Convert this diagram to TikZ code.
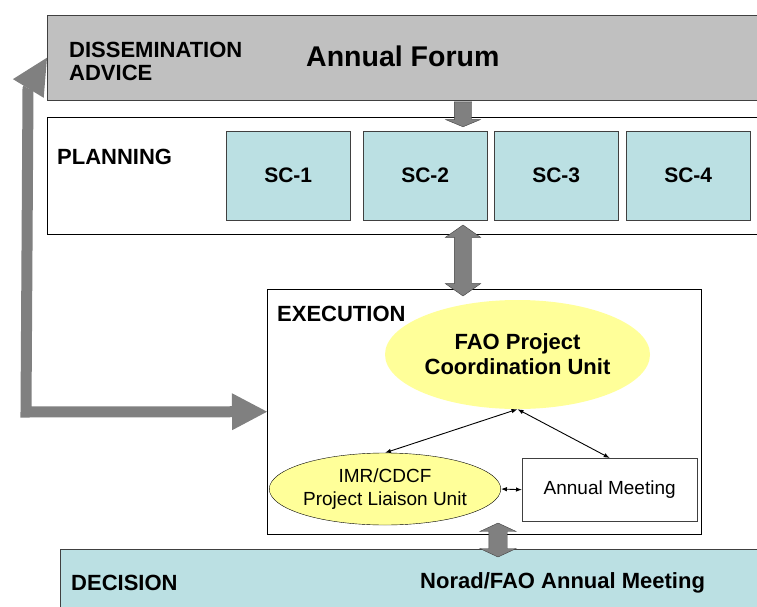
\documentclass[tikz,border=0pt]{standalone}
\usepackage{fontspec}
\setmainfont{Liberation Sans}
\usetikzlibrary{shapes.geometric,shapes.arrows,arrows.meta}
\definecolor{forumgray}{HTML}{C0C0C0}
\definecolor{scteal}{HTML}{BBE0E3}
\definecolor{unityellow}{HTML}{FFFF99}
\definecolor{arrowgray}{HTML}{808080}
\definecolor{edgegray}{HTML}{404040}

\begin{document}
\begin{tikzpicture}[x=1pt, y=-1pt,
    box/.style={rectangle, draw=black, thin, inner sep=0pt, anchor=north west},
    scbox/.style={box, draw=edgegray, fill=scteal, minimum width=124pt,
        minimum height=89pt, font=\bfseries\fontsize{21}{24}\selectfont},
    layertitle/.style={anchor=west, align=left, inner sep=0pt,
        font=\bfseries\fontsize{22}{23}\selectfont},
    unit/.style={ellipse, fill=unityellow, inner sep=0pt, align=center},
    blockarrow/.style={draw=edgegray, fill=arrowgray, inner xsep=0pt, inner ysep=8.5pt},
    link/.style={line width=0.9pt, {Latex[length=6pt,width=4.5pt]}-{Latex[length=6pt,width=4.5pt]}},
    feedback/.style={draw=arrowgray, line width=11pt, line join=miter,
        {Triangle[length=36pt,width=36pt,line width=0pt]}-{Triangle[length=35pt,width=37pt,line width=0pt]}}
]
    \useasboundingbox (0,0) rectangle (757,607);
    % layers
    \node[box, fill=forumgray, draw=edgegray, minimum width=720pt, minimum height=85pt] (forum) at (47,15) {};
    \node[box, minimum width=720pt, minimum height=117pt] (plan) at (47,117) {};
    \node[box, minimum width=434pt, minimum height=245pt] (exec) at (267,289) {};
    \node[box, fill=scteal, draw=edgegray, minimum width=710pt, minimum height=70pt] (decide) at (60,549) {};
    \node[layertitle] (dissem) at (69,61) {DISSEMINATION\\ADVICE};
    \node[anchor=west, inner sep=0pt, font=\bfseries\fontsize{28.5}{30}\selectfont] (forumtxt) at (306,56) {Annual Forum};
    \node[layertitle] (plantxt) at (57,157) {PLANNING};
    \node[layertitle] (exectxt) at (277,314) {EXECUTION};
    \node[layertitle] (decidetxt) at (71,583) {DECISION};
    \node[layertitle] (noradtxt) at (420,583) {Norad/FAO Annual Meeting};
    % steering committees
    \foreach \i/\x in {1/226,2/363,3/494,4/626}
        \node[scbox] (sc\i) at (\x,131) {SC-\i};
    % execution units
    \node[unit, minimum width=265pt, minimum height=109pt,
        font=\bfseries\fontsize{22}{25}\selectfont] (fao) at (517.5,354.5) {FAO Project\\Coordination Unit};
    \node[unit, draw=black, thin, minimum width=224pt, minimum height=72pt,
        font=\fontsize{19}{23}\selectfont] (imr) at (385,489) {IMR/CDCF\\Project Liaison Unit};
    \node[box, draw=edgegray, minimum width=175pt, minimum height=63pt,
        font=\fontsize{19}{23}\selectfont] (am) at (522,458) {Annual Meeting};
    \draw[link] (fao.south) -- (imr.north);
    \draw[link] (fao.south) -- (am.north);
    \draw[link] (imr.east) -- (am.west);
    % block arrows
    \node[blockarrow, single arrow, rotate=-90, minimum height=25pt,
        single arrow head extend=8.5pt, single arrow tip angle=135] (fwd) at (463,112.5) {};
    \node[blockarrow, double arrow, rotate=90, minimum height=71pt,
        double arrow head extend=9pt, double arrow tip angle=110] (planexec) at (463,260.5) {};
    \node[blockarrow, double arrow, rotate=90, minimum height=34pt, inner ysep=9pt,
        double arrow head extend=9pt, double arrow tip angle=130] (execdec) at (498,540) {};
    \draw[feedback] (forum.west) -- (28,89) -- (26,412) -- (exec.west);
\end{tikzpicture}
\end{document}
